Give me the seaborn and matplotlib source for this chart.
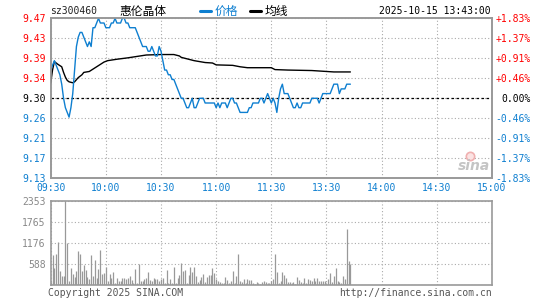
import numpy as np
import matplotlib
matplotlib.use("Agg")
import matplotlib.pyplot as plt
from matplotlib.lines import Line2D
import seaborn as sns

# minute prices, 09:30 onwards (minute index; lunch break removed)
price = [9.36, 9.37, 9.38, 9.37, 9.36, 9.35, 9.33, 9.30, 9.28, 9.27,
         9.26, 9.28, 9.31, 9.36, 9.41, 9.43, 9.44, 9.44, 9.43, 9.42,
         9.41, 9.42, 9.41, 9.45, 9.45, 9.46, 9.47, 9.46, 9.46, 9.46,
         9.45, 9.45, 9.45, 9.46, 9.46, 9.47, 9.46, 9.46, 9.46, 9.47,
         9.47, 9.46, 9.46, 9.45, 9.45, 9.45, 9.45, 9.44, 9.43, 9.42,
         9.41, 9.41, 9.41, 9.40, 9.40, 9.41, 9.40, 9.39, 9.39, 9.41,
         9.40, 9.38, 9.36, 9.36, 9.35, 9.35, 9.34, 9.34, 9.33, 9.32,
         9.31, 9.30, 9.30, 9.29, 9.28, 9.28, 9.29, 9.30, 9.28, 9.28,
         9.29, 9.30, 9.30, 9.30, 9.29, 9.29, 9.29, 9.29, 9.29, 9.29,
         9.28, 9.29, 9.28, 9.29, 9.29, 9.29, 9.28, 9.29, 9.30, 9.30,
         9.29, 9.29, 9.28, 9.27, 9.27, 9.27, 9.27, 9.27, 9.28, 9.28,
         9.29, 9.29, 9.29, 9.29, 9.30, 9.30, 9.29, 9.30, 9.31, 9.30,
         9.29, 9.30, 9.29, 9.27, 9.30, 9.32, 9.33, 9.31, 9.31, 9.31,
         9.30, 9.29, 9.28, 9.28, 9.29, 9.28, 9.28, 9.29, 9.29, 9.29,
         9.29, 9.29, 9.30, 9.30, 9.30, 9.30, 9.29, 9.30, 9.31, 9.31,
         9.31, 9.31, 9.31, 9.32, 9.33, 9.33, 9.33, 9.31, 9.32, 9.32,
         9.32, 9.33, 9.33, 9.33]

# average price line, read at its bends
avg_minute = [0, 1, 2, 4, 6, 7, 8, 9, 10, 12, 13, 15, 17, 18, 21, 23, 25, 27,
              29, 31, 36, 42, 47, 52, 60, 67, 70, 71, 73, 75, 78, 81, 84, 88,
              90, 99, 103, 107, 120, 122, 129, 142, 154, 163]
avg_price = [9.332, 9.360, 9.378, 9.372, 9.367, 9.355, 9.345, 9.338, 9.335,
             9.333, 9.335, 9.344, 9.350, 9.355, 9.357, 9.362, 9.367, 9.372,
             9.377, 9.380, 9.383, 9.386, 9.389, 9.392, 9.393, 9.393, 9.390,
             9.387, 9.385, 9.383, 9.380, 9.378, 9.376, 9.375, 9.371, 9.370,
             9.367, 9.365, 9.365, 9.361, 9.360, 9.359, 9.356, 9.356]

# volume per minute (lots)
volume = [100, 846, 474, 874, 1200, 400, 260, 260, 2353, 1172,
          121, 484, 316, 223, 400, 958, 874, 400, 567, 428,
          223, 177, 846, 260, 707, 195, 456, 986, 316, 353,
          502, 121, 316, 205, 372, 56, 195, 130, 130, 205,
          205, 167, 205, 260, 149, 56, 456, 56, 595, 121,
          121, 186, 205, 381, 149, 112, 195, 167, 167, 130,
          177, 205, 74, 428, 74, 177, 74, 521, 56, 214,
          288, 614, 409, 428, 56, 288, 521, 381, 521,
          260, 102, 149, 223, 316, 102, 223, 288, 288, 474,
          335, 177, 130, 102, 74, 56, 223, 149, 74, 130,
          400, 56, 260, 874, 121, 102, 177, 74, 177, 149,
          149, 56, 37, 84, 56, 37, 102, 121, 84, 74,
          56, 121, 167, 874, 381, 56, 121, 381, 288, 195,
          84, 84, 56, 84, 37, 223, 149, 102, 74, 195,
          56, 177, 149, 130, 195, 130, 195, 121, 121, 121,
          121, 56, 167, 335, 102, 260, 474, 130, 102, 56,
          260, 177, 1562, 679, 586]

time_ticks = [0, 30, 60, 90, 120, 150, 180, 210, 240]
time_labels = ["09:30", "10:00", "10:30", "11:00", "11:30", "13:30", "14:00", "14:30", "15:00"]
price_labels = ["9.47", "9.43", "9.39", "9.34", "9.30", "9.26", "9.21", "9.17", "9.13"]
pct_labels = ["+1.83%", "+1.37%", "+0.91%", "+0.46%", "0.00%", "-0.46%", "-0.91%", "-1.37%", "-1.83%"]
vol_ticks = [0, 588, 1176, 1765, 2353]
prev_close = 9.30

RED = "#ff0000"
BLUE = "#0e7fd0"
GREY = "#999999"
GRID = "#aaaaaa"

sns.set_theme(style="white")
plt.rcParams["font.family"] = ["DejaVu Sans Mono", "Noto Sans CJK SC"]
mono = "DejaVu Sans Mono"
cjk = ["Noto Sans CJK SC", "DejaVu Sans"]

fig = plt.figure(figsize=(5.45, 3.0), dpi=100)
fig.patch.set_facecolor("white")
ax = fig.add_axes([0.093, 0.4057, 0.8097, 0.5333])
axv = fig.add_axes([0.093, 0.049, 0.8097, 0.281])

minutes = np.arange(len(price))
vol_minutes = np.arange(len(volume))

# ---- price panel ----
hi = float(price_labels[0])
lo = float(price_labels[-1])
ax.set_xlim(0, 240)
ax.set_ylim(lo, hi)
ax.set_xticks(time_ticks)
ax.set_xticklabels(time_labels)
yt = np.linspace(hi, lo, len(price_labels))
ax.set_yticks(yt)
ax.set_yticklabels(price_labels)
ax.grid(True, linestyle=(0, (1, 2)), color=GRID, linewidth=0.8)
ax.axhline(prev_close, color="black", linestyle=(0, (2, 2)), linewidth=0.9, zorder=2)

sns.lineplot(x=avg_minute, y=avg_price, ax=ax, color="black", linewidth=1.0,
             estimator=None, zorder=3)
sns.lineplot(x=minutes, y=price, ax=ax, color=BLUE, linewidth=1.0,
             estimator=None, zorder=4)
ax.set_xlabel("")
ax.set_ylabel("")

ax.tick_params(axis="both", length=0, labelsize=7)
ax.tick_params(axis="y", pad=3.5)
ax.tick_params(axis="x", pad=3.5, labelcolor=BLUE)
for lab in ax.get_yticklabels():
    lab.set_fontfamily(mono)
    v = float(lab.get_text())
    lab.set_color(RED if v > prev_close else ("black" if v == prev_close else BLUE))
for lab in ax.get_xticklabels():
    lab.set_fontfamily(mono)

axr = ax.twinx()
axr.set_ylim(lo, hi)
axr.set_yticks(yt)
axr.set_yticklabels(pct_labels)
axr.tick_params(axis="y", length=0, labelsize=7, pad=28)
for lab in axr.get_yticklabels():
    lab.set_fontfamily(mono)
    lab.set_horizontalalignment("right")
    t = lab.get_text()
    lab.set_color(RED if t.startswith("+") else (BLUE if t.startswith("-") else "black"))
axr.grid(False)

for a in (ax, axr):
    for s in a.spines.values():
        s.set_color(GREY)
        s.set_linewidth(1.2)

# ---- volume panel ----
axv.vlines(vol_minutes, 0, volume, color=GREY, linewidth=0.9)
axv.set_xlim(0, 240)
axv.set_ylim(0, vol_ticks[-1])
axv.set_xticks(time_ticks)
axv.set_xticklabels([])
axv.set_yticks(vol_ticks)
axv.set_yticklabels([""] + [str(v) for v in vol_ticks[1:]])
axv.grid(True, linestyle=(0, (1, 2)), color=GRID, linewidth=0.8)
axv.tick_params(axis="both", length=0, labelsize=7, labelcolor="#888888", pad=3.5)
for lab in axv.get_yticklabels():
    lab.set_fontfamily(mono)
for s in axv.spines.values():
    s.set_color(GREY)
    s.set_linewidth(1.2)

# ---- header / footer ----
fig.text(50 / 545, 1 - 11.5 / 300, "sz300460", fontsize=7, family=mono,
         color="#222222", va="center", ha="left")
fig.text(119 / 545, 1 - 11.5 / 300, "惠伦晶体", fontsize=8.5, family=cjk,
         color="black", va="center", ha="left")
fig.add_artist(Line2D([200 / 545, 211 / 545], [1 - 11 / 300] * 2, color=BLUE, linewidth=2.2))
fig.text(215 / 545, 1 - 11.5 / 300, "价格", fontsize=8.5, family=cjk,
         color=BLUE, va="center", ha="left")
fig.add_artist(Line2D([250 / 545, 261 / 545], [1 - 11 / 300] * 2, color="black", linewidth=2.2))
fig.text(265 / 545, 1 - 11.5 / 300, "均线", fontsize=8.5, family=cjk,
         color="black", va="center", ha="left")
fig.text(491 / 545, 1 - 11.5 / 300, "2025-10-15 13:43:00", fontsize=7, family=mono,
         color="black", va="center", ha="right")

fig.text(48 / 545, 1 - 293 / 300, "Copyright 2025 SINA.COM", fontsize=7, family=mono,
         color="#555555", va="center", ha="left")
fig.text(492 / 545, 1 - 293 / 300, "http://finance.sina.com.cn", fontsize=7, family=mono,
         color="#555555", va="center", ha="right")

# faint sina watermark
fig.add_artist(Line2D([470 / 545], [1 - 156 / 300], marker="o", markersize=6,
                      markerfacecolor="#fbe3e3", markeredgecolor="#f0b0b0",
                      markeredgewidth=1.2))
fig.text(490 / 545, 1 - 166 / 300, "sina", fontsize=10, family="DejaVu Sans",
         fontweight="bold", style="italic", color="#c4c4c4", va="center", ha="right")

fig.savefig("out.png", dpi=100, facecolor="white")
